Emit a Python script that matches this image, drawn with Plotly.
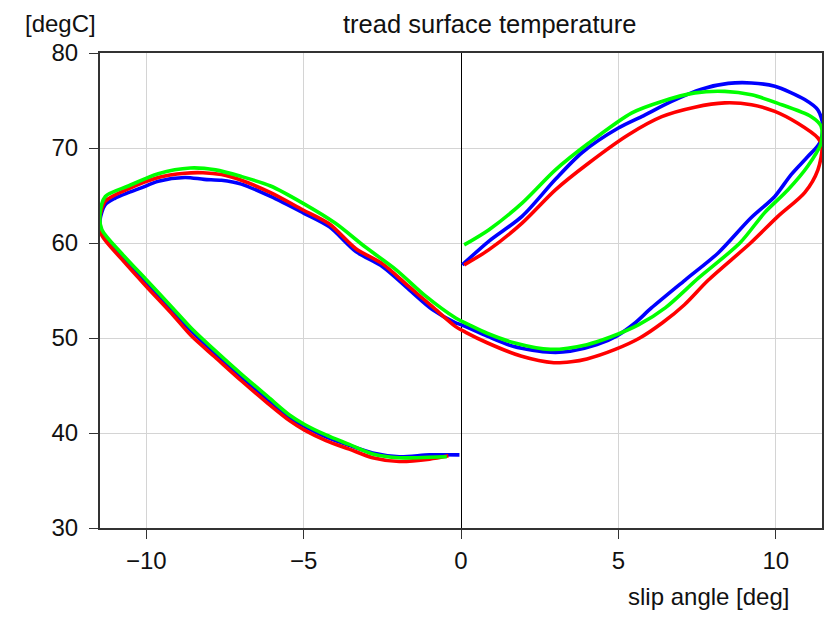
import plotly.graph_objects as go

# slip angle sweep
blue_x = [-0.05, -1.0, -1.96, -2.81, -3.55, -4.29, -4.97, -5.45, -6.13, -6.98, -7.82, -8.56, -9.2, -9.99,
          -10.78, -11.41, -11.47,
          -11.31, -11.0, -10.57, -10.16, -9.62, -8.77, -8.16, -7.61, -6.98, -6.05, -5.03, -4.18, -3.34,
          -2.49, -1.65, -0.91, -0.17,
          0.0, 0.83, 1.68, 2.84, 3.47, 4.32, 4.94, 5.5, 6.05, 7.12, 8.17, 9.2, 9.97, 10.49, 11.02,
          11.39, 11.5, 11.34, 10.92, 9.97, 9.23, 8.49, 7.64, 6.69, 5.74, 5.0, 3.84, 3.0, 1.94, 0.89, 0.04]
blue_y = [37.7, 37.7, 37.5, 37.9, 38.7, 39.6, 40.7, 41.6, 43.5, 45.9, 48.4, 50.7, 53.0, 55.8,
          58.6, 61.0, 62.4,
          64.0, 64.7, 65.3, 65.8, 66.5, 66.9, 66.7, 66.6, 66.2, 64.9, 63.2, 61.7, 59.1,
          57.5, 55.1, 53.0, 51.6,
          51.4, 50.2, 49.1, 48.5, 48.6, 49.3, 50.2, 51.5, 53.16, 56.1, 58.95, 62.6, 64.9, 67.2, 69.1,
          70.5, 72.3, 74.0, 75.1, 76.5, 76.85, 76.8, 76.2, 74.9, 73.3, 72.1, 69.5, 66.7, 62.8, 60.2, 57.7]

red_x = [-0.4, -1.0, -1.96, -2.81, -3.55, -4.29, -4.97, -5.45, -6.13, -6.98, -7.82, -8.56, -9.2, -9.99,
         -10.78, -11.41, -11.5,
         -11.3, -10.57, -9.62, -8.77, -8.2, -7.61, -6.98, -6.05, -5.03, -4.18, -3.34, -2.49, -1.65,
         -0.91, -0.17,
         0.15, 0.83, 1.9, 2.95, 3.5, 4.0, 4.9, 5.68, 6.4, 7.1, 7.86, 9.2, 10.07, 10.92, 11.34, 11.47,
         11.34, 10.7, 9.97, 9.23, 8.38, 7.43, 6.38, 5.32, 4.05, 3.0, 1.94, 0.89, 0.1]
red_y = [37.6, 37.25, 37.0, 37.4, 38.3, 39.2, 40.3, 41.3, 43.1, 45.5, 48.0, 50.2, 52.6, 55.4,
         58.3, 60.8, 62.2,
         64.4, 65.7, 66.9, 67.35, 67.4, 67.2, 66.6, 65.3, 63.5, 62.0, 59.4, 57.8, 55.4,
         53.3, 51.2,
         50.6, 49.5, 48.1, 47.4, 47.5, 47.8, 48.8, 50.0, 51.6, 53.5, 56.1, 60.0, 62.8, 65.3, 67.7, 70.2,
         71.05, 72.6, 73.85, 74.56, 74.75, 74.3, 73.3, 71.4, 68.4, 65.6, 62.1, 59.3, 57.7]

green_x = [-0.45, -1.0, -1.96, -2.81, -3.55, -4.29, -4.97, -5.45, -6.13, -6.98, -7.82, -8.56, -9.2, -9.99,
           -10.78, -11.41, -11.47,
           -11.3, -10.57, -9.62, -8.6, -7.8, -6.98, -6.05, -5.03, -4.0, -3.05, -2.07, -1.12, -0.17,
           0.25, 0.83, 1.68, 2.84, 4.0, 4.75, 5.65, 6.5, 7.54, 8.86, 9.65, 10.39, 11.02, 11.44,
           11.44, 11.13, 10.07, 9.23, 8.38, 7.43, 6.38, 5.43, 4.05, 3.0, 1.94, 0.89, 0.1]
green_y = [37.5, 37.45, 37.4, 37.8, 38.8, 39.8, 40.9, 41.9, 43.8, 46.2, 48.7, 51.0, 53.3, 56.1,
           58.9, 61.4, 63.0,
           64.9, 66.0, 67.3, 67.9, 67.7, 67.0, 66.0, 64.2, 62.1, 59.6, 57.2, 54.4, 52.1,
           51.4, 50.5, 49.5, 48.8, 49.3, 50.1, 51.4, 53.2, 56.3, 60.0, 63.2, 65.6, 68.1, 70.5,
           72.3, 73.3, 74.7, 75.6, 75.96, 75.8, 74.9, 73.7, 70.5, 67.7, 64.2, 61.4, 59.8]

x_ticks = [-10, -5, 0, 5, 10]
y_ticks = [30, 40, 50, 60, 70, 80]

FONT = "Liberation Sans, Arial, sans-serif"

fig = go.Figure()
for xs, ys, col in [(blue_x, blue_y, "#0000ff"), (red_x, red_y, "#ff0000"), (green_x, green_y, "#00ff00")]:
    fig.add_trace(go.Scatter(x=xs, y=ys, mode="lines",
                             line=dict(color=col, width=3.6, shape="spline", smoothing=0.8),
                             showlegend=False, hoverinfo="skip"))

# page body has an 8px margin, so the figure is 16px smaller than the window
fig.update_layout(
    width=820, height=604,
    margin=dict(l=92, r=4, t=45, b=84),
    plot_bgcolor="white", paper_bgcolor="white",
    font=dict(family=FONT, size=24, color="#111111"),
    xaxis=dict(range=[-11.47, 11.47], tickvals=x_ticks, ticks="outside", ticklen=9,
               tickcolor="#333333", showline=True, linecolor="#333333", linewidth=2, mirror=True,
               showgrid=True, gridcolor="#d4d4d4", gridwidth=1,
               zeroline=True, zerolinecolor="black", zerolinewidth=1, ticklabelstandoff=1),
    yaxis=dict(range=[30, 80], tickvals=y_ticks, ticks="outside", ticklen=9,
               tickcolor="#333333", showline=True, linecolor="#333333", linewidth=2, mirror=True,
               showgrid=True, gridcolor="#d4d4d4", gridwidth=1, zeroline=False,
               ticklabelstandoff=6),
    annotations=[
        dict(text="tread surface temperature", xref="paper", yref="paper", x=0.539, y=1.0947,
             xanchor="center", yanchor="top", showarrow=False, font=dict(size=25.5)),
        dict(text="[degC]", xref="paper", yref="paper", x=-0.003, y=1.0947,
             xanchor="right", yanchor="top", showarrow=False),
        dict(text="slip angle [deg]", xref="paper", yref="paper", x=0.957, y=-0.1768,
             xanchor="right", yanchor="bottom", showarrow=False),
    ],
)

fig.write_html("out.html")
